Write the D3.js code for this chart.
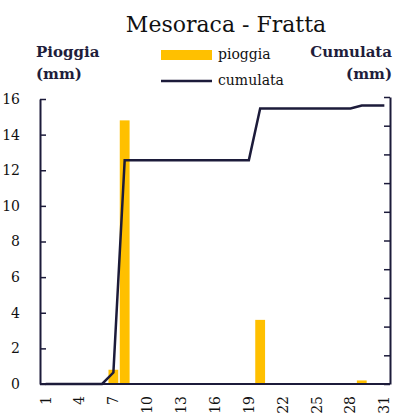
<!DOCTYPE html>
<html><head><meta charset="utf-8">
<script src="https://cdn.jsdelivr.net/npm/d3@7"></script>
<style>body{margin:0;background:#fff}svg{display:block;font-family:"DejaVu Serif",serif}</style>
</head><body><svg id="c" width="395" height="417"></svg>
<script>
const days = d3.range(1, 32);
const pioggia = [0,0,0,0,0,0,0.8,14.8,0,0,0,0,0,0,0,0,0,0,0,3.6,0,0,0,0,0,0,0,0,0.2,0,0];
const cumulata = [0,0,0,0,0,0,0.8,15.6,15.6,15.6,15.6,15.6,15.6,15.6,15.6,15.6,15.6,15.6,15.6,19.2,19.2,19.2,19.2,19.2,19.2,19.2,19.2,19.2,19.4,19.4,19.4];
const leftTicks = [0,2,4,6,8,10,12,14,16];
const rightTicks = [0,2,4,6,8,10,12,14,16,18,20];
const xTickLabels = [1,4,7,10,13,16,19,22,25,28,31];

const svg = d3.select("#c");
const m = {l:40, r:390, t:97, b:384};
const ink = "#1c1b3a";
const x = d3.scaleBand().domain(days).range([m.l, m.r]).paddingInner(0.12).paddingOuter(0.06);
const xc = d => m.l + (days.indexOf(d) + 0.5) * (m.r - m.l) / days.length;
const yL = d3.scaleLinear().domain([0,16]).range([m.b, 99]);
const yR = d3.scaleLinear().domain([0,20]).range([m.b, m.t]);
const bw = (m.r - m.l) / days.length * 0.87;

// bars
svg.append("g").selectAll("rect").data(days).join("rect")
  .attr("x", d => xc(d) - bw/2).attr("width", bw)
  .attr("y", (d,i) => yL(pioggia[i])).attr("height", (d,i) => yL(0) - yL(pioggia[i]))
  .attr("fill", "#FFC000");

// left axis
const gl = svg.append("g").attr("transform", `translate(${m.l},0)`)
  .call(d3.axisLeft(yL).tickValues(leftTicks).tickSize(-6).tickPadding(20).tickSizeOuter(0));
gl.select(".domain").attr("stroke", ink).attr("stroke-width", 2);
gl.selectAll(".tick line").attr("stroke", ink).attr("stroke-width", 1.5);
gl.selectAll("text").attr("font-size", 14).attr("fill", "#111").attr("font-family", "DejaVu Serif");

// right axis (its labels fall outside the picture in the reference)
const gr = svg.append("g").attr("transform", `translate(${m.r},0)`)
  .call(d3.axisRight(yR).tickValues(rightTicks).tickSize(-6).tickFormat("").tickSizeOuter(0));
gr.select(".domain").attr("stroke", ink).attr("stroke-width", 2);
gr.selectAll(".tick line").attr("stroke", ink).attr("stroke-width", 1.5);

// x axis
const gx = svg.append("g").attr("transform", `translate(0,${m.b})`)
  .call(d3.axisBottom(x).tickValues(xTickLabels).tickSize(0).tickSizeOuter(0));
gx.select(".domain").attr("stroke", ink).attr("stroke-width", 2).attr("d", `M${m.l},0H${m.r}`);
gx.selectAll(".tick").attr("transform", d => `translate(${xc(d)},0)`);
gx.selectAll("text").attr("font-size", 14).attr("fill", "#111").attr("font-family", "DejaVu Serif")
  .attr("transform", "rotate(-90)").attr("text-anchor", "end").attr("x", -12).attr("y", 0).attr("dy", "0.35em");

// line
svg.append("path").datum(days)
  .attr("d", d3.line().x(d => xc(d)).y((d,i) => yR(cumulata[i])))
  .attr("fill", "none").attr("stroke", ink).attr("stroke-width", 2.5);

// title
svg.append("text").attr("x", 226).attr("y", 32).attr("text-anchor", "middle")
  .attr("font-size", 22).attr("fill", "#111").text("Mesoraca - Fratta");

// axis titles
const at = svg.append("g").attr("font-size", 15).attr("font-weight", "bold").attr("fill", "#1f1e3c");
at.append("text").attr("x", 36).attr("y", 57).text("Pioggia");
at.append("text").attr("x", 36).attr("y", 79).text("(mm)");
at.append("text").attr("x", 392).attr("y", 57).attr("text-anchor", "end").text("Cumulata");
at.append("text").attr("x", 392).attr("y", 79).attr("text-anchor", "end").text("(mm)");

// legend
const lg = svg.append("g");
lg.append("rect").attr("x", 161).attr("y", 50).attr("width", 51).attr("height", 10).attr("fill", "#FFC000");
lg.append("text").attr("x", 218).attr("y", 59).attr("font-size", 14).attr("fill", "#111").text("pioggia");
lg.append("line").attr("x1", 161).attr("x2", 212).attr("y1", 81).attr("y2", 81).attr("stroke", ink).attr("stroke-width", 2.5);
lg.append("text").attr("x", 218).attr("y", 85).attr("font-size", 14).attr("fill", "#111").text("cumulata");
</script></body></html>
